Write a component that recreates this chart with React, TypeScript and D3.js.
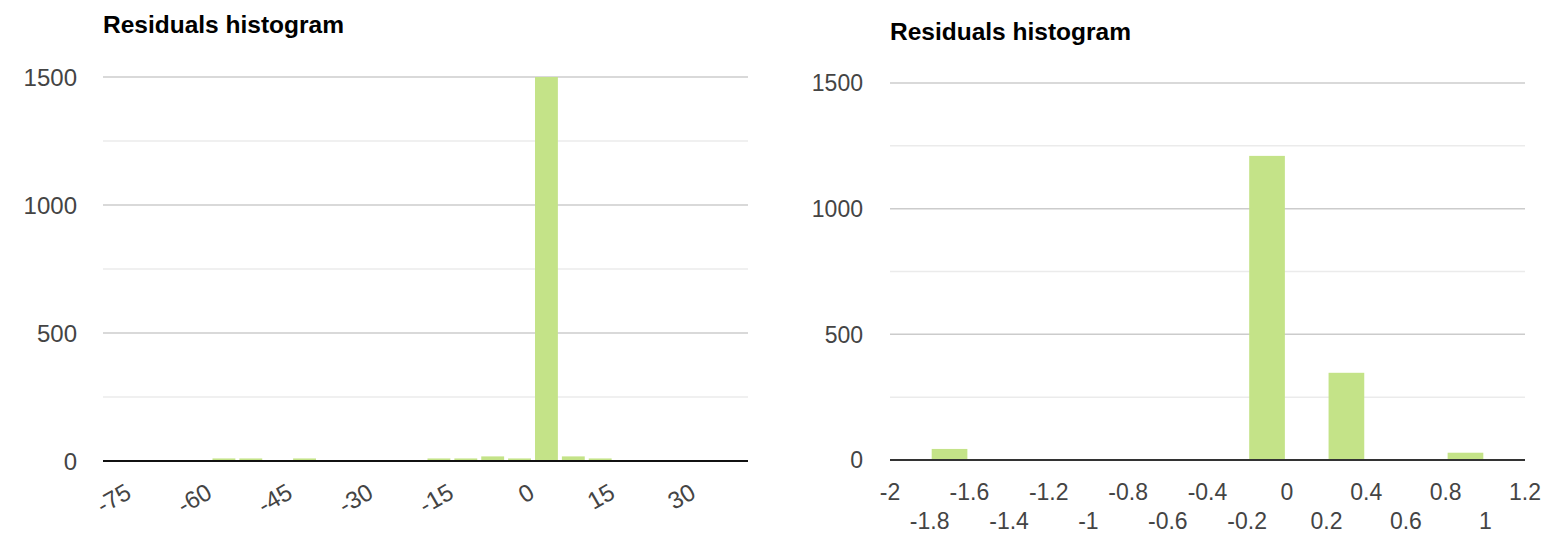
import React, { useEffect, useRef } from 'react'
import * as d3 from 'd3'

// left panel: residuals in raw units, bins of width 5
const leftBinStarts = [-60, -55, -45, -20, -15, -10, -5, 0, 5, 10]
const leftCounts = [10, 10, 10, 10, 10, 18, 10, 1500, 18, 10]
const leftXTicks = [-75, -60, -45, -30, -15, 0, 15, 30]

// right panel: bins of width 0.2
const rightBinStarts = [-1.8, -0.2, 0.2, 0.8]
const rightCounts = [44, 1210, 347, 29]
const rightXTicks = [-2, -1.8, -1.6, -1.4, -1.2, -1, -0.8, -0.6, -0.4, -0.2, 0, 0.2, 0.4, 0.6, 0.8, 1, 1.2]

const yTicks = [0, 250, 500, 750, 1000, 1250, 1500]

const BAR_COLOR = '#c4e388'
const FONT = 'Arial, "Liberation Sans", sans-serif'

interface HistProps {
  x0: number
  x1: number
  y0: number
  y1: number
  titleY: number
  labelRight: number
  labelSize: number
  domain: [number, number]
  binWidth: number
  binStarts: number[]
  counts: number[]
  xTicks: number[]
  slanted: boolean
  baseColor: string
}

const Histogram: React.FC<HistProps> = (p) => {
  const gRef = useRef<SVGGElement>(null)

  useEffect(() => {
    if (!gRef.current) return
    const g = d3.select(gRef.current)
    g.selectAll('*').remove()

    const x = d3.scaleLinear().domain(p.domain).range([p.x0, p.x1])
    const y = d3.scaleLinear().domain([0, 1500]).range([p.y0, p.y1])

    // title
    g.append('text')
      .attr('x', p.x0)
      .attr('y', p.titleY)
      .attr('font-family', FONT)
      .attr('font-weight', 'bold')
      .attr('font-size', 24.5)
      .attr('fill', '#000')
      .text('Residuals histogram')

    // gridlines (major every 500, minor between)
    g.selectAll('.grid')
      .data(yTicks.filter(t => t > 0))
      .enter()
      .append('line')
      .attr('x1', p.x0)
      .attr('x2', p.x1)
      .attr('y1', d => y(d))
      .attr('y2', d => y(d))
      .attr('stroke', d => (d % 500 === 0 ? '#cccccc' : '#ebebeb'))
      .attr('stroke-width', 1.5)

    // y labels
    g.selectAll('.ylab')
      .data(yTicks.filter(t => t % 500 === 0))
      .enter()
      .append('text')
      .attr('x', p.labelRight)
      .attr('y', d => y(d))
      .attr('dy', '0.36em')
      .attr('text-anchor', 'end')
      .attr('font-family', FONT)
      .attr('font-size', p.labelSize)
      .attr('fill', '#444')
      .text(d => d)

    // bars
    const inset = 2
    g.selectAll('.bar')
      .data(p.binStarts.map((s, i) => ({ s, c: p.counts[i] })))
      .enter()
      .append('rect')
      .attr('x', d => x(d.s) + inset)
      .attr('width', d => x(d.s + p.binWidth) - x(d.s) - inset * 2)
      .attr('y', d => y(d.c))
      .attr('height', d => y(0) - y(d.c))
      .attr('fill', BAR_COLOR)

    // baseline
    g.append('line')
      .attr('x1', p.x0)
      .attr('x2', p.x1)
      .attr('y1', y(0))
      .attr('y2', y(0))
      .attr('stroke', p.baseColor)
      .attr('stroke-width', 2)

    // x labels
    const fmt = (v: number) => String(+v.toFixed(2))
    if (p.slanted) {
      g.selectAll('.xlab')
        .data(p.xTicks)
        .enter()
        .append('text')
        .attr('transform', d => `translate(${x(d) + 3},${y(0) + 36}) rotate(-30)`)
        .attr('text-anchor', 'end')
        .attr('font-family', FONT)
        .attr('font-size', p.labelSize)
        .attr('fill', '#444')
        .text(d => fmt(d))
    } else {
      // alternating two rows
      g.selectAll('.xlab')
        .data(p.xTicks)
        .enter()
        .append('text')
        .attr('x', d => x(d))
        .attr('y', (d, i) => y(0) + (i % 2 === 0 ? 40 : 69))
        .attr('text-anchor', 'middle')
        .attr('font-family', FONT)
        .attr('font-size', p.labelSize)
        .attr('fill', '#444')
        .text(d => fmt(d))
    }
  }, [p])

  return <g ref={gRef} />
}

export default function App() {
  return (
    <svg
      width={1561}
      height={533}
      style={{ position: 'absolute', left: 0, top: 0, background: '#fff' }}
    >
      <Histogram
        x0={103}
        x1={748}
        y0={461}
        y1={77}
        titleY={33}
        labelRight={77}
        labelSize={24}
        domain={[-80, 40]}
        binWidth={5}
        binStarts={leftBinStarts}
        counts={leftCounts}
        xTicks={leftXTicks}
        slanted={true}
        baseColor="#111"
      />
      <Histogram
        x0={890}
        x1={1525}
        y0={460}
        y1={83}
        titleY={40}
        labelRight={863}
        labelSize={23}
        domain={[-2, 1.2]}
        binWidth={0.2}
        binStarts={rightBinStarts}
        counts={rightCounts}
        xTicks={rightXTicks}
        slanted={false}
        baseColor="#333"
      />
    </svg>
  )
}
